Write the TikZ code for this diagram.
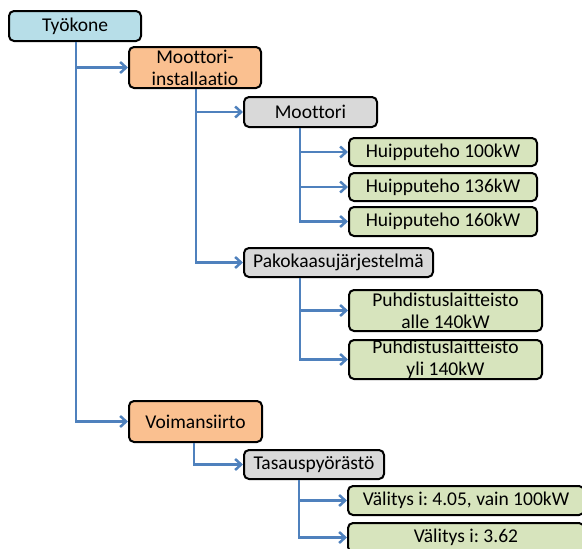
\documentclass[tikz,border=0pt]{standalone}
\usepackage{fontspec}
\setmainfont{Carlito}[Ligatures=CommonOff]
\usetikzlibrary{arrows.meta}
\definecolor{boxblue}{HTML}{B7DEE8}
\definecolor{boxorange}{HTML}{FAC090}
\definecolor{boxgrey}{HTML}{D9D9D9}
\definecolor{boxgreen}{HTML}{D7E4BD}
\definecolor{linkblue}{HTML}{4F81BD}
\frenchspacing
\begin{document}
\begin{tikzpicture}[x=1pt,y=-1pt,
box/.style={draw=black,line width=2pt,rounded corners=5pt,inner sep=0pt,align=center,font=\fontsize{19.5}{22}\selectfont},
conn/.style={linkblue,line width=2.5pt,-{Straight Barb[length=6pt,width=11pt]}}]
\useasboundingbox (0,0) rectangle (582,549);
\clip (0,0) rectangle (582,549);
\node[box,fill=boxblue,minimum width=132pt,minimum height=30pt] (tyokone) at (75,26) {Työkone};
\node[box,fill=boxorange,minimum width=132pt,minimum height=41pt] (instal) at (195,67.5) {Moottori-\\installaatio};
\node[box,fill=boxgrey,minimum width=133pt,minimum height=30pt] (moottori) at (310.5,112) {Moottori};
\node[box,fill=boxgreen,minimum width=188pt,minimum height=28pt] (h100) at (443,152) {Huipputeho 100kW};
\node[box,fill=boxgreen,minimum width=188pt,minimum height=28pt] (h136) at (443,187) {Huipputeho 136kW};
\node[box,fill=boxgreen,minimum width=188pt,minimum height=29pt] (h160) at (443,221.5) {Huipputeho 160kW};
\node[box,fill=boxgrey,minimum width=189pt,minimum height=29pt] (pakokaasu) at (338.5,262.5) {Pakokaasujärjestelmä};
\node[box,fill=boxgreen,minimum width=193pt,minimum height=41pt] (puhd1) at (445.5,310.5) {Puhdistuslaitteisto\\alle 140kW};
\node[box,fill=boxgreen,minimum width=193pt,minimum height=39pt] (puhd2) at (445.5,359.5) {Puhdistuslaitteisto\\yli 140kW};
\node[box,fill=boxorange,minimum width=133pt,minimum height=41pt] (voimansiirto) at (195.5,421.5) {Voimansiirto};
\node[box,fill=boxgrey,minimum width=140pt,minimum height=29pt] (tasaus) at (314,464.5) {Tasauspyörästö};
\node[box,fill=boxgreen,minimum width=236pt,minimum height=29pt] (val1) at (466,500.5) {Välitys i: 4.05, vain 100kW};
\node[box,fill=boxgreen,minimum width=236pt,minimum height=29pt] (val2) at (466,537.5) {Välitys i: 3.62};
\draw[conn] ([xshift=-52pt]instal.west |- tyokone.south) |- (instal.west);
\draw[conn] ([xshift=-52pt]voimansiirto.west |- tyokone.south) |- (voimansiirto.west);
\draw[conn] ([xshift=-47pt]moottori.west |- instal.south) |- (moottori.west);
\draw[conn] ([xshift=-47pt]pakokaasu.west |- instal.south) |- (pakokaasu.west);
\draw[conn] ([xshift=-48pt]h100.west |- moottori.south) |- (h100.west);
\draw[conn] ([xshift=-48pt]h136.west |- moottori.south) |- (h136.west);
\draw[conn] ([xshift=-48pt]h160.west |- moottori.south) |- (h160.west);
\draw[conn] ([xshift=-48pt]puhd1.west |- pakokaasu.south) |- (puhd1.west);
\draw[conn] ([xshift=-48pt]puhd2.west |- pakokaasu.south) |- (puhd2.west);
\draw[conn] ([xshift=-49pt]tasaus.west |- voimansiirto.south) |- (tasaus.west);
\draw[conn] ([xshift=-48pt]val1.west |- tasaus.south) |- (val1.west);
\draw[conn] ([xshift=-48pt]val2.west |- tasaus.south) |- (val2.west);
\end{tikzpicture}
\end{document}
